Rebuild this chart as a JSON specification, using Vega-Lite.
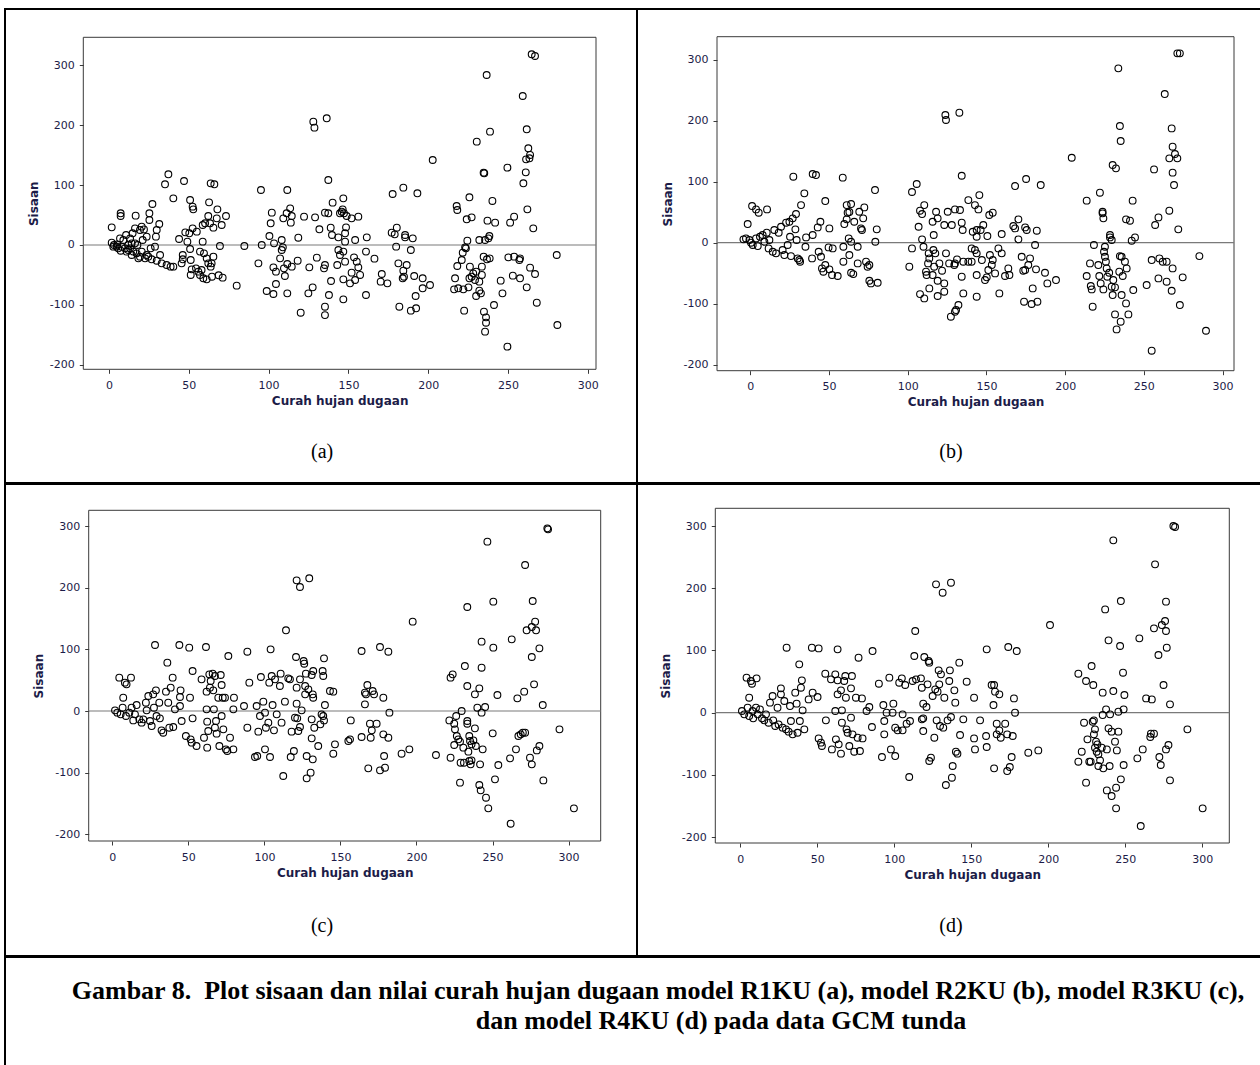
{
"$schema": "https://vega.github.io/schema/vega-lite/v6.json",
"background": "white",
"padding": {"left": 4, "top": 8, "right": 0, "bottom": 0},
"spacing": -2,
"config": {"view": {"stroke": null},
  "axis": {"domain": false, "grid": false, "tickSize": 4, "tickColor": "#3a3a3a", "labelFont": "DejaVu Sans", "labelFontSize": 11, "labelColor": "#1c1c48", "labelFlush": false, "labelOverlap": false, "titleFont": "DejaVu Sans", "titleFontSize": 12, "titleFontWeight": "bold", "titleColor": "#1c1c48"},
  "axisX": {"labelPadding": 6, "titlePadding": 5},
  "axisY": {"labelPadding": 5, "titlePadding": 9},
  "point": {"shape": "circle", "filled": false, "stroke": "#000", "strokeWidth": 1.1, "size": 46, "opacity": 1}},
"datasets": {
"a": [{"x":1.7,"y":3.9},{"x":3.1,"y":0},{"x":4.8,"y":-2.8},{"x":1.7,"y":29.5},{"x":7.3,"y":52.9},{"x":7.3,"y":48.4},{"x":16.7,"y":49},{"x":6.9,"y":11},{"x":7.9,"y":-2.8},{"x":10.7,"y":16.7},{"x":13.2,"y":11},{"x":14.2,"y":2.8},{"x":12.1,"y":-8.3},{"x":15.2,"y":-11},{"x":17.3,"y":-13.9},{"x":16.3,"y":27.8},{"x":19.4,"y":25},{"x":20.5,"y":30.6},{"x":21.9,"y":26},{"x":23.6,"y":13.9},{"x":25.3,"y":52.9},{"x":25.3,"y":41.7},{"x":27.2,"y":68.4},{"x":31.5,"y":35},{"x":29.9,"y":25},{"x":29.4,"y":13.9},{"x":28.8,"y":-2.8},{"x":26.1,"y":-5.6},{"x":19.4,"y":-19.5},{"x":22.6,"y":-22.3},{"x":26.7,"y":-23.9},{"x":29.9,"y":-26.2},{"x":33,"y":-30.6},{"x":36.1,"y":-33.4},{"x":38.6,"y":-36.2},{"x":40.3,"y":-36.2},{"x":32,"y":-16.7},{"x":35.1,"y":101.3},{"x":37.2,"y":118},{"x":40.3,"y":77.9},{"x":43.9,"y":10},{"x":46.2,"y":-16.7},{"x":46.2,"y":-23.9},{"x":45.5,"y":-30.6},{"x":47,"y":106.8},{"x":47.8,"y":21.1},{"x":49.1,"y":5.6},{"x":50.8,"y":75.1},{"x":52.4,"y":64},{"x":52.8,"y":59.5},{"x":52.4,"y":27.8},{"x":55,"y":22.3},{"x":50.3,"y":19.5},{"x":50.8,"y":-6.7},{"x":51.2,"y":-25},{"x":51.8,"y":-40.6},{"x":51.2,"y":-50},{"x":54.5,"y":-39},{"x":56,"y":-44.5},{"x":57,"y":-50},{"x":58,"y":-41.7},{"x":59.1,"y":-55.6},{"x":61.2,"y":-57.3},{"x":58.7,"y":5.6},{"x":57,"y":-11},{"x":59.5,"y":-13.9},{"x":61.2,"y":-22.3},{"x":62.2,"y":-30.6},{"x":60.2,"y":36.2},{"x":58.7,"y":33.4},{"x":62.2,"y":48.4},{"x":62.7,"y":71.2},{"x":63.7,"y":102.9},{"x":66,"y":101.3},{"x":63.3,"y":36.2},{"x":65.4,"y":28.9},{"x":67.9,"y":59.5},{"x":67.5,"y":44.5},{"x":69.5,"y":-1.7},{"x":65.4,"y":-19.5},{"x":64.3,"y":-30.6},{"x":63.7,"y":-36.2},{"x":64.5,"y":-52.9},{"x":68.7,"y":-50.6},{"x":71.2,"y":-54.5},{"x":70.6,"y":33.4},{"x":73.3,"y":48.4},{"x":80,"y":-67.9},{"x":84.8,"y":-1.7},{"x":95.2,"y":91.8},{"x":95.7,"y":0},{"x":93.6,"y":-30.6},{"x":98.8,"y":-76.8},{"x":100.5,"y":15},{"x":102,"y":54},{"x":101.3,"y":36.2},{"x":103.4,"y":2.8},{"x":103,"y":-37.3},{"x":104.6,"y":-44.5},{"x":103,"y":-81.8},{"x":104.6,"y":-65.1},{"x":107.2,"y":-22.3},{"x":108.2,"y":-8.3},{"x":108.9,"y":-3.9},{"x":108.2,"y":8.3},{"x":109.6,"y":-39},{"x":110.2,"y":-51.8},{"x":109.2,"y":44.5},{"x":111.3,"y":52.9},{"x":111.7,"y":91.8},{"x":113.5,"y":61.2},{"x":113.9,"y":37.3},{"x":114.5,"y":48.4},{"x":111.7,"y":-31.7},{"x":114.5,"y":-36.2},{"x":111.7,"y":-80.7},{"x":118.6,"y":12.2},{"x":118.2,"y":-26.2},{"x":120.1,"y":-113},{"x":122.2,"y":47.3},{"x":124.9,"y":-80.7},{"x":125.5,"y":-37.3},{"x":127.6,"y":-70.7},{"x":128,"y":205.9},{"x":128.7,"y":195.9},{"x":129.1,"y":46.2},{"x":131.8,"y":26.2},{"x":130.2,"y":-21.1},{"x":134.7,"y":-39},{"x":135.3,"y":-33.4},{"x":135.3,"y":-103},{"x":135.3,"y":-117},{"x":136.4,"y":211.5},{"x":137.4,"y":108.5},{"x":135.3,"y":54},{"x":137.4,"y":52.9},{"x":138.9,"y":28.9},{"x":139.7,"y":16.7},{"x":139.1,"y":-60.1},{"x":137.8,"y":-83.5},{"x":140.1,"y":70.7},{"x":143.7,"y":12.8},{"x":143.7,"y":-8.3},{"x":143,"y":-33.4},{"x":144.7,"y":52.9},{"x":146.8,"y":77.9},{"x":146.4,"y":59.5},{"x":147.2,"y":52.9},{"x":145.8,"y":55.6},{"x":148.9,"y":48.4},{"x":152,"y":44.5},{"x":156.2,"y":47.3},{"x":148.5,"y":29.5},{"x":147.9,"y":19.5},{"x":154.2,"y":8.3},{"x":147.9,"y":5.6},{"x":146.8,"y":-11},{"x":144.7,"y":-16.7},{"x":147.9,"y":-27.8},{"x":153.5,"y":-20.6},{"x":155.2,"y":-27.8},{"x":156.2,"y":-37.3},{"x":157.3,"y":-50},{"x":152,"y":-46.2},{"x":154.2,"y":-58.4},{"x":151,"y":-64},{"x":146.8,"y":-57.3},{"x":146.8,"y":-90.7},{"x":161,"y":-11},{"x":161,"y":-83.5},{"x":161.5,"y":12.8},{"x":166.3,"y":-22.8},{"x":170.9,"y":-48.4},{"x":170.2,"y":-61.2},{"x":174.4,"y":-64},{"x":177.7,"y":85.1},{"x":184.4,"y":95.7},{"x":193.2,"y":86.3},{"x":177.1,"y":20.6},{"x":180.3,"y":28.9},{"x":179.9,"y":-2.8},{"x":179,"y":17.8},{"x":185.5,"y":16.7},{"x":190.3,"y":11.1},{"x":185.5,"y":12.8},{"x":189.1,"y":-8.3},{"x":181.3,"y":-30.6},{"x":186.5,"y":-33.4},{"x":184.4,"y":-42.9},{"x":184.8,"y":-52.9},{"x":184,"y":-55.6},{"x":181.9,"y":-103},{"x":189.1,"y":-109.6},{"x":192.4,"y":-105.7},{"x":191.2,"y":-51.8},{"x":192.1,"y":-85.1},{"x":196.5,"y":-55.6},{"x":196.5,"y":-72.3},{"x":201.1,"y":-66.8},{"x":202.8,"y":141.9},{"x":217.8,"y":65.1},{"x":218.2,"y":58.4},{"x":225.8,"y":79.6},{"x":224.1,"y":42.9},{"x":227.2,"y":46.2},{"x":224.5,"y":7.2},{"x":223.6,"y":-5.6},{"x":221.6,"y":-12.8},{"x":221,"y":-25},{"x":218.2,"y":-35.1},{"x":216.8,"y":-55.6},{"x":216.2,"y":-74},{"x":218.8,"y":-72.3},{"x":222,"y":-74},{"x":225.2,"y":-70.7},{"x":222.5,"y":-109.6},{"x":223.1,"y":-3.9},{"x":225.8,"y":-55.6},{"x":227.2,"y":-52.9},{"x":228.2,"y":-47.3},{"x":226.1,"y":-36.2},{"x":230,"y":-44.5},{"x":229.3,"y":-58.4},{"x":232,"y":-61.2},{"x":232,"y":-76.2},{"x":230,"y":-85.1},{"x":233,"y":-80.7},{"x":233.6,"y":-36.2},{"x":233.6,"y":-50},{"x":234.7,"y":-19.5},{"x":236.8,"y":-23.9},{"x":238.5,"y":-22.3},{"x":230.4,"y":172.5},{"x":236.6,"y":283.8},{"x":238.7,"y":189.2},{"x":234.7,"y":120.8},{"x":235.1,"y":119.7},{"x":237.1,"y":40.6},{"x":240.2,"y":73.5},{"x":241.9,"y":37.3},{"x":232,"y":8.3},{"x":235.6,"y":8.3},{"x":238.3,"y":15},{"x":237.7,"y":11.1},{"x":234.9,"y":-111.3},{"x":236.2,"y":-120.8},{"x":236.2,"y":-129.7},{"x":235.6,"y":-144.7},{"x":241.2,"y":-100.2},{"x":245.4,"y":-59.5},{"x":246.5,"y":-80.7},{"x":250.2,"y":-20.6},{"x":253.8,"y":-19.5},{"x":257.5,"y":-22.3},{"x":257.1,"y":-25},{"x":253,"y":-51.2},{"x":257.5,"y":-55.6},{"x":261.7,"y":-70.7},{"x":263.8,"y":-37.8},{"x":266.9,"y":-48.4},{"x":268,"y":-96.3},{"x":249.6,"y":-169.7},{"x":249.6,"y":129.1},{"x":251.3,"y":37.3},{"x":253.8,"y":47.3},{"x":259.2,"y":248.7},{"x":261.7,"y":193.1},{"x":262.1,"y":59.5},{"x":262.7,"y":161.4},{"x":261.3,"y":143},{"x":263.8,"y":150.3},{"x":263.4,"y":144.7},{"x":261.1,"y":121.3},{"x":259.6,"y":103},{"x":265.8,"y":27.8},{"x":264.8,"y":318.3},{"x":266.9,"y":315.5},{"x":280.5,"y":-16.7},{"x":280.9,"y":-133.6},{"x":2.7,"y":-2.8},{"x":5.8,"y":-5.6},{"x":10,"y":-5.6},{"x":11.1,"y":-11.1},{"x":14.2,"y":-16.7},{"x":17.8,"y":0},{"x":20.5,"y":-11.1},{"x":23.6,"y":-16.7},{"x":9,"y":8.3},{"x":14.8,"y":19.5},{"x":21.1,"y":8.3},{"x":18.4,"y":-22.3},{"x":24.6,"y":-19.5},{"x":13.2,"y":-5.6},{"x":16.3,"y":2.8},{"x":12.1,"y":0},{"x":7.3,"y":-9.5},{"x":5.2,"y":1.1}],
"b": [{"x":-1.7,"y":30.6},{"x":1.1,"y":60.1},{"x":3.6,"y":54.6},{"x":5.3,"y":49.2},{"x":10.6,"y":54.6},{"x":-4.4,"y":5.5},{"x":-2.8,"y":7.1},{"x":-0.6,"y":4.4},{"x":0.4,"y":0},{"x":1.5,"y":-3.8},{"x":3.6,"y":7.1},{"x":4.7,"y":-5.5},{"x":6.1,"y":9.8},{"x":7.8,"y":12.6},{"x":8.9,"y":1.6},{"x":10.4,"y":16.4},{"x":11.6,"y":-9.3},{"x":12.1,"y":4.4},{"x":14.2,"y":-14.8},{"x":15.2,"y":20.8},{"x":16.3,"y":-17.5},{"x":18,"y":16.4},{"x":19.5,"y":26.2},{"x":20.5,"y":-12},{"x":21.6,"y":-20.2},{"x":22.7,"y":32.8},{"x":23.7,"y":-3.8},{"x":24.8,"y":34.4},{"x":25.2,"y":9.8},{"x":25.8,"y":-21.9},{"x":26.9,"y":39.9},{"x":27.3,"y":108.2},{"x":28.6,"y":21.9},{"x":29,"y":47},{"x":29.4,"y":4.4},{"x":30.1,"y":-25.7},{"x":31.1,"y":-28.4},{"x":31.6,"y":-31.1},{"x":32.2,"y":61.7},{"x":34.3,"y":80.9},{"x":35,"y":-6.6},{"x":35.4,"y":8.7},{"x":39.2,"y":-25.7},{"x":39.6,"y":112.6},{"x":41.7,"y":110.9},{"x":39.6,"y":12.6},{"x":42.8,"y":25.1},{"x":44.5,"y":34.4},{"x":43.4,"y":-14.8},{"x":44.9,"y":-23},{"x":45.5,"y":-42.1},{"x":46.4,"y":-47.5},{"x":47.6,"y":-36.6},{"x":47.6,"y":68.3},{"x":50.2,"y":23.5},{"x":49.7,"y":-7.7},{"x":52.3,"y":-9.3},{"x":50.2,"y":-43.7},{"x":51.9,"y":-53},{"x":55.5,"y":-54.6},{"x":58.7,"y":106.6},{"x":59.1,"y":-6.6},{"x":59.1,"y":-31.1},{"x":59.7,"y":30.6},{"x":61.2,"y":38.3},{"x":61.8,"y":49.2},{"x":61.2,"y":61.7},{"x":62.9,"y":50.3},{"x":64,"y":63.4},{"x":62.5,"y":7.1},{"x":64,"y":1.6},{"x":62.9,"y":-20.2},{"x":64,"y":-49.2},{"x":65.4,"y":-51.4},{"x":66,"y":34.4},{"x":68.2,"y":-6.6},{"x":68.2,"y":-33.9},{"x":69.2,"y":50.8},{"x":70.3,"y":23.5},{"x":70.9,"y":20.8},{"x":72.4,"y":57.9},{"x":71.7,"y":39.9},{"x":73.5,"y":-31.1},{"x":74.5,"y":-39.3},{"x":75.6,"y":-36.6},{"x":76.6,"y":-66.7},{"x":75.6,"y":-62.3},{"x":79.2,"y":86.3},{"x":80.3,"y":21.9},{"x":79.4,"y":1.6},{"x":80.9,"y":-65.6},{"x":101,"y":-39.3},{"x":102.7,"y":83.1},{"x":105.7,"y":96.2},{"x":102.7,"y":-9.3},{"x":106.9,"y":26.2},{"x":107.8,"y":52.5},{"x":109.1,"y":5.5},{"x":110,"y":-6.6},{"x":110.5,"y":61.7},{"x":109.1,"y":47},{"x":107.8,"y":-84.2},{"x":110.5,"y":-91.3},{"x":111.6,"y":-47.5},{"x":112,"y":-53},{"x":113.3,"y":-17.5},{"x":113.7,"y":-25.7},{"x":112.9,"y":-33.9},{"x":113.7,"y":-74.9},{"x":115.8,"y":34.4},{"x":116.5,"y":12.6},{"x":116.3,"y":-12},{"x":117.5,"y":-17.5},{"x":116.8,"y":-39.3},{"x":115.8,"y":-53},{"x":118,"y":50.8},{"x":119,"y":39.9},{"x":120.1,"y":-33.9},{"x":119,"y":-62.3},{"x":119,"y":-87.4},{"x":121.8,"y":-45.9},{"x":123.2,"y":29},{"x":123.9,"y":209.3},{"x":124.3,"y":201.1},{"x":125.4,"y":50.8},{"x":124.3,"y":-17.5},{"x":123.2,"y":-66.7},{"x":123.2,"y":-80.3},{"x":126.3,"y":-33.9},{"x":128,"y":29},{"x":127.4,"y":-121.3},{"x":129.6,"y":-36.6},{"x":130.7,"y":-110.4},{"x":132.8,"y":213.1},{"x":134.3,"y":109.8},{"x":130,"y":54.6},{"x":133.2,"y":53.6},{"x":134.3,"y":32.8},{"x":134.9,"y":20.8},{"x":130,"y":-33.9},{"x":131.3,"y":-27.3},{"x":135.3,"y":-31.1},{"x":138.5,"y":-31.1},{"x":140.6,"y":-31.1},{"x":134.3,"y":-55.7},{"x":135.3,"y":-83.1},{"x":132.2,"y":-102.2},{"x":130,"y":-113.1},{"x":138.5,"y":69.9},{"x":140.6,"y":-9.3},{"x":142.7,"y":-12},{"x":143.8,"y":-17.5},{"x":143.8,"y":-53},{"x":143.8,"y":-88.5},{"x":142.7,"y":61.7},{"x":144.9,"y":54.6},{"x":145.5,"y":78.1},{"x":141.3,"y":18},{"x":143.8,"y":20.8},{"x":143.8,"y":9.8},{"x":146.3,"y":20.8},{"x":148,"y":29},{"x":150.6,"y":10.9},{"x":147.1,"y":-28.4},{"x":149.1,"y":-61.2},{"x":150.2,"y":-56.8},{"x":151.8,"y":45.4},{"x":154,"y":49.2},{"x":152.2,"y":-20.2},{"x":154,"y":-28.4},{"x":153.4,"y":-36.6},{"x":151.2,"y":-44.8},{"x":155.5,"y":-50.3},{"x":157.6,"y":-9.3},{"x":159.7,"y":-17.5},{"x":159.7,"y":14.2},{"x":158.2,"y":-83.1},{"x":161.8,"y":-54.6},{"x":163.9,"y":-42.1},{"x":164.6,"y":-53},{"x":168.2,"y":92.9},{"x":167.1,"y":27.3},{"x":168.2,"y":23.5},{"x":170.3,"y":38.3},{"x":170.3,"y":5.5},{"x":172.4,"y":-23},{"x":173.4,"y":-45.9},{"x":174.6,"y":-44.8},{"x":173.9,"y":-96.7},{"x":175.2,"y":104.4},{"x":174.6,"y":25.1},{"x":175.6,"y":20.8},{"x":177.7,"y":-25.7},{"x":176.6,"y":-36.6},{"x":178.7,"y":-100.5},{"x":179.4,"y":-74.9},{"x":180.9,"y":-3.8},{"x":182,"y":19.7},{"x":181.5,"y":-43.7},{"x":182.4,"y":-96.7},{"x":184.5,"y":94.5},{"x":187.2,"y":-49.2},{"x":188.7,"y":-66.7},{"x":194.2,"y":-61.2},{"x":204.2,"y":139.3},{"x":213.7,"y":68.9},{"x":218.3,"y":-3.8},{"x":215.8,"y":-33.9},{"x":213.7,"y":-54.6},{"x":216.3,"y":-71},{"x":216.9,"y":-76.5},{"x":217.5,"y":-104.9},{"x":221.1,"y":-36.6},{"x":221.7,"y":-54.6},{"x":222.6,"y":-66.7},{"x":224.3,"y":-76.5},{"x":222.1,"y":82},{"x":223.8,"y":50.8},{"x":223.8,"y":48.1},{"x":224.3,"y":39.9},{"x":225.3,"y":-6.6},{"x":224.7,"y":-14.8},{"x":225.3,"y":-23},{"x":225.9,"y":-31.1},{"x":226.4,"y":-42.1},{"x":228.5,"y":12.6},{"x":228.5,"y":8.7},{"x":229.6,"y":4.4},{"x":226.8,"y":-55.7},{"x":228,"y":-49.2},{"x":229.6,"y":-72.1},{"x":230.2,"y":-85.8},{"x":231.7,"y":-73.2},{"x":230.6,"y":-61.2},{"x":231.7,"y":-117.5},{"x":232.7,"y":-142.1},{"x":235.3,"y":-129.5},{"x":233.8,"y":285.8},{"x":230.2,"y":127.3},{"x":232.3,"y":121.9},{"x":234.8,"y":191.3},{"x":235.3,"y":166.7},{"x":234.8,"y":-21.9},{"x":235.9,"y":-23},{"x":238,"y":-31.1},{"x":234.4,"y":-47.5},{"x":236.6,"y":-54.6},{"x":239.1,"y":-42.1},{"x":235.9,"y":-85.8},{"x":238.7,"y":-99.5},{"x":240.2,"y":-117.5},{"x":238.7,"y":38.3},{"x":241.2,"y":36.1},{"x":242.9,"y":68.9},{"x":242.3,"y":3.3},{"x":244.4,"y":8.7},{"x":243.3,"y":-77.6},{"x":251.8,"y":-69.4},{"x":255,"y":-28.4},{"x":255,"y":-177},{"x":256.5,"y":120.2},{"x":257.2,"y":29},{"x":259.3,"y":41.5},{"x":259.3,"y":-58.5},{"x":259.9,"y":-25.7},{"x":262,"y":-31.1},{"x":264.5,"y":-31.1},{"x":263.3,"y":243.7},{"x":264.5,"y":-63.9},{"x":266.2,"y":52.5},{"x":267.7,"y":187.4},{"x":268.3,"y":157.4},{"x":269.8,"y":145.4},{"x":266.2,"y":138.3},{"x":271.3,"y":138.3},{"x":268.3,"y":114.8},{"x":269.2,"y":94.5},{"x":268.3,"y":-42.1},{"x":267.7,"y":-78.7},{"x":271.9,"y":21.9},{"x":272.9,"y":-102.2},{"x":274.7,"y":-56.8},{"x":271.3,"y":310.4},{"x":272.9,"y":310.4},{"x":285.3,"y":-21.9},{"x":289.5,"y":-144.3}],
"c": [{"x":1.8,"y":1.1},{"x":3.3,"y":-2.7},{"x":4.6,"y":54.1},{"x":8.3,"y":46},{"x":9.4,"y":43.3},{"x":12.3,"y":54.1},{"x":7.2,"y":21.6},{"x":5.5,"y":-5.4},{"x":6.8,"y":5.4},{"x":9,"y":-8.1},{"x":11.2,"y":-2.7},{"x":12.7,"y":5.4},{"x":13.8,"y":-15.2},{"x":14.9,"y":-5.4},{"x":16,"y":9.7},{"x":17.8,"y":-13.5},{"x":19.3,"y":-18.9},{"x":20.4,"y":-13.5},{"x":22.1,"y":13.5},{"x":22.6,"y":1.1},{"x":23.7,"y":24.4},{"x":24.8,"y":-16.2},{"x":25.9,"y":-24.4},{"x":26.9,"y":27.1},{"x":27.4,"y":5.4},{"x":28.7,"y":33.5},{"x":29.1,"y":-8.1},{"x":28.1,"y":107.1},{"x":30.9,"y":13.5},{"x":31.3,"y":-11.9},{"x":32.4,"y":-31.4},{"x":33.5,"y":-35.2},{"x":35.3,"y":31.4},{"x":36.2,"y":78.5},{"x":36.8,"y":13.5},{"x":37.5,"y":-27.1},{"x":38.4,"y":37.9},{"x":39.7,"y":54.1},{"x":40.1,"y":-26},{"x":41.2,"y":2.7},{"x":44.1,"y":107.1},{"x":44.5,"y":22.7},{"x":44.9,"y":33.5},{"x":45.6,"y":-16.2},{"x":44.5,"y":8.1},{"x":48.4,"y":-40.6},{"x":50.6,"y":102.8},{"x":51.1,"y":21.6},{"x":51.5,"y":-46},{"x":52.2,"y":-51.4},{"x":52.8,"y":64.9},{"x":52.8,"y":-11.9},{"x":55.4,"y":-56.8},{"x":58.7,"y":51.4},{"x":60.3,"y":-43.3},{"x":61.6,"y":103.9},{"x":62,"y":31.4},{"x":62,"y":2.7},{"x":62.4,"y":-59.5},{"x":62.4,"y":-17.3},{"x":63.1,"y":-32.5},{"x":63.8,"y":59.5},{"x":64.2,"y":37.9},{"x":64.7,"y":48.7},{"x":66,"y":60.6},{"x":66.4,"y":33.5},{"x":67.5,"y":56.8},{"x":67.5,"y":-27.1},{"x":66.8,"y":2.7},{"x":68.2,"y":-16.2},{"x":68.6,"y":-36.8},{"x":69.7,"y":21.6},{"x":70.4,"y":-56.8},{"x":71.3,"y":58.4},{"x":71.9,"y":42.2},{"x":71.9,"y":-8.1},{"x":72.6,"y":21.6},{"x":73,"y":-29.8},{"x":74.1,"y":21.6},{"x":74.7,"y":-62.2},{"x":75.6,"y":-64.9},{"x":76.3,"y":89.3},{"x":77.4,"y":-43.3},{"x":79.6,"y":-62.2},{"x":80,"y":21.6},{"x":79.6,"y":2.7},{"x":86.6,"y":8.1},{"x":88.8,"y":96.3},{"x":88.8,"y":-27.1},{"x":90.1,"y":46},{"x":93.8,"y":-74.7},{"x":94.9,"y":8.1},{"x":95.3,"y":-73},{"x":96,"y":-33.5},{"x":97.1,"y":-8.1},{"x":97.7,"y":55.2},{"x":99.3,"y":15.2},{"x":100.4,"y":-2.7},{"x":100.4,"y":-62.2},{"x":101,"y":-27.1},{"x":102.6,"y":-18.9},{"x":103.7,"y":-74.7},{"x":104.1,"y":100.1},{"x":103.2,"y":46},{"x":104.8,"y":56.8},{"x":105.4,"y":9.7},{"x":106.3,"y":-31.4},{"x":107,"y":51.4},{"x":108.1,"y":-5.4},{"x":110.2,"y":40.6},{"x":110.7,"y":60.6},{"x":111.3,"y":-18.9},{"x":112.4,"y":-105.5},{"x":113.5,"y":15.2},{"x":114.2,"y":131},{"x":115.7,"y":53},{"x":116.8,"y":51.4},{"x":117.3,"y":-74.7},{"x":117.9,"y":-33.5},{"x":119.4,"y":-64.9},{"x":120.8,"y":87.7},{"x":121.2,"y":212.1},{"x":123.4,"y":201.3},{"x":121.2,"y":37.9},{"x":121.2,"y":11.9},{"x":120.1,"y":-10.8},{"x":121.6,"y":-11.9},{"x":123.4,"y":-26},{"x":122.3,"y":-32.5},{"x":123.4,"y":51.4},{"x":124.5,"y":1.1},{"x":125.8,"y":81.2},{"x":126.2,"y":76.8},{"x":126.8,"y":27.1},{"x":126.8,"y":40.6},{"x":127.3,"y":60.6},{"x":127.8,"y":-109.3},{"x":127.8,"y":-73},{"x":128.9,"y":35.2},{"x":129.5,"y":215.4},{"x":130.4,"y":-100.1},{"x":131.1,"y":58.4},{"x":131.8,"y":27.1},{"x":131.1,"y":-13.5},{"x":132.1,"y":64.9},{"x":132.1,"y":21.6},{"x":131.1,"y":-44.4},{"x":131.8,"y":-78.5},{"x":132.8,"y":-27.1},{"x":135.4,"y":-56.8},{"x":136.8,"y":-21.6},{"x":138.3,"y":64.9},{"x":138.7,"y":56.8},{"x":139.2,"y":85.5},{"x":139.8,"y":9.7},{"x":137.6,"y":-5.4},{"x":138.7,"y":-8.1},{"x":139.2,"y":-15.2},{"x":143.1,"y":32.5},{"x":145.3,"y":31.4},{"x":146.4,"y":-54.1},{"x":145.3,"y":-69.3},{"x":156.8,"y":-15.2},{"x":155.2,"y":-48.7},{"x":156.3,"y":-46},{"x":163.9,"y":97.4},{"x":166.1,"y":10.8},{"x":166.1,"y":29.8},{"x":167.7,"y":42.2},{"x":166.8,"y":27.1},{"x":163.9,"y":-42.2},{"x":168.3,"y":-93.1},{"x":169.4,"y":-20.6},{"x":170.6,"y":-31.4},{"x":169.9,"y":-43.3},{"x":171.2,"y":32.5},{"x":172.1,"y":27.1},{"x":173.8,"y":-20.6},{"x":176,"y":103.9},{"x":176,"y":-96.3},{"x":178.2,"y":21.6},{"x":178.2,"y":-37.9},{"x":178.7,"y":-73},{"x":179.3,"y":-92},{"x":181.5,"y":96.3},{"x":181.5,"y":-43.3},{"x":182.2,"y":-2.7},{"x":190.2,"y":-69.3},{"x":195.3,"y":-62.2},{"x":197.5,"y":145},{"x":212.8,"y":-71.4},{"x":222.4,"y":54.1},{"x":223.8,"y":59.5},{"x":221.6,"y":-15.2},{"x":222.4,"y":-75.8},{"x":224.8,"y":-20.6},{"x":226.1,"y":-8.1},{"x":225.3,"y":-29.8},{"x":226.5,"y":-40.6},{"x":224.8,"y":-55.2},{"x":228.6,"y":-116.3},{"x":227.5,"y":-46},{"x":228.6,"y":-49.8},{"x":229.7,"y":0},{"x":229,"y":-83.9},{"x":230.8,"y":-59.5},{"x":231.2,"y":-83.9},{"x":231.8,"y":73},{"x":233.4,"y":168.8},{"x":233.4,"y":40.6},{"x":233.4,"y":-16.2},{"x":233.4,"y":-20.6},{"x":234.7,"y":-40.6},{"x":235.2,"y":-48.7},{"x":234.1,"y":-66},{"x":234.7,"y":-81.2},{"x":235.6,"y":-86.6},{"x":236.2,"y":-54.1},{"x":237.4,"y":-47.6},{"x":236.2,"y":-80.1},{"x":238.4,"y":27.1},{"x":238.4,"y":-28.1},{"x":239,"y":-56.8},{"x":240,"y":5.4},{"x":241.3,"y":36.8},{"x":241.3,"y":-120.1},{"x":242.2,"y":-128.8},{"x":241.8,"y":-86.6},{"x":242.8,"y":112.6},{"x":242.8,"y":70.3},{"x":242.8,"y":-2.7},{"x":243.5,"y":-62.2},{"x":245.1,"y":6.5},{"x":245.7,"y":-140.7},{"x":247.2,"y":-158},{"x":246.6,"y":274.9},{"x":250.5,"y":177.5},{"x":250.5,"y":102.8},{"x":250.1,"y":-36.3},{"x":251.6,"y":-110.9},{"x":253.2,"y":26},{"x":253.8,"y":-87.7},{"x":261.5,"y":-76.8},{"x":261.9,"y":-182.9},{"x":262.6,"y":116.3},{"x":265.4,"y":-62.2},{"x":266.3,"y":20.6},{"x":267,"y":-40.6},{"x":268.5,"y":-37.9},{"x":269.9,"y":-35.2},{"x":271.4,"y":-35.2},{"x":270.8,"y":31.4},{"x":271.4,"y":237},{"x":272.4,"y":131},{"x":274.6,"y":-75.8},{"x":275.8,"y":-86.6},{"x":275.8,"y":87.7},{"x":276.4,"y":178.6},{"x":275.8,"y":136.4},{"x":277.3,"y":43.3},{"x":278,"y":145},{"x":278.6,"y":131},{"x":279.1,"y":-63.9},{"x":280.8,"y":-56.8},{"x":280.8,"y":101.7},{"x":283,"y":9.7},{"x":283.4,"y":-112.6},{"x":286,"y":296.5},{"x":286.5,"y":294.9},{"x":294,"y":-29.8},{"x":303.5,"y":-158}],
"d": [{"x":1.1,"y":2.7},{"x":2.6,"y":-2.7},{"x":4.1,"y":56.3},{"x":6.9,"y":50.9},{"x":7.6,"y":46.6},{"x":10.6,"y":55.2},{"x":5.8,"y":24.1},{"x":4.8,"y":8},{"x":5.8,"y":-5.4},{"x":8,"y":2.7},{"x":8.4,"y":-9.1},{"x":10.2,"y":8},{"x":11.3,"y":-2.7},{"x":12.8,"y":5.4},{"x":14.1,"y":-9.1},{"x":15.6,"y":-12.3},{"x":16.7,"y":-2.7},{"x":18.4,"y":-16.1},{"x":19.3,"y":16.1},{"x":21,"y":26.8},{"x":21.4,"y":-12.3},{"x":22.7,"y":-21.4},{"x":24.2,"y":8},{"x":24.9,"y":-18.8},{"x":26.4,"y":39.1},{"x":26.4,"y":29.5},{"x":27.5,"y":-24.1},{"x":28.6,"y":18.8},{"x":29.7,"y":-26.8},{"x":30.1,"y":104.5},{"x":31.4,"y":-30.5},{"x":32.3,"y":10.7},{"x":32.9,"y":-13.4},{"x":34,"y":-34.8},{"x":35.7,"y":32.2},{"x":36.6,"y":14.5},{"x":37.2,"y":-32.2},{"x":38.3,"y":77.7},{"x":38.7,"y":-13.4},{"x":39.4,"y":40.2},{"x":40,"y":52},{"x":40.5,"y":3.8},{"x":41.6,"y":-26.8},{"x":44.4,"y":21.4},{"x":46.5,"y":104.5},{"x":47,"y":32.2},{"x":50.9,"y":103.4},{"x":50.2,"y":25.2},{"x":50.9,"y":-41.3},{"x":52.4,"y":-48.2},{"x":53,"y":-53.6},{"x":55.2,"y":62.7},{"x":55.6,"y":-12.3},{"x":58.9,"y":53.6},{"x":59.5,"y":-59},{"x":61.7,"y":61.6},{"x":61.7,"y":2.7},{"x":63.2,"y":101.8},{"x":63.2,"y":52},{"x":63.2,"y":29.5},{"x":62.1,"y":-42.9},{"x":63.9,"y":-50.9},{"x":65.4,"y":35.9},{"x":66,"y":3.8},{"x":65.4,"y":-65.9},{"x":66,"y":-16.1},{"x":67.5,"y":50.9},{"x":68.2,"y":59},{"x":68.6,"y":24.1},{"x":69,"y":-26.8},{"x":69.7,"y":-32.2},{"x":70.8,"y":-53.6},{"x":71.9,"y":-8},{"x":71.9,"y":39.1},{"x":72.5,"y":59},{"x":72.9,"y":-34.8},{"x":74,"y":-62.7},{"x":75.1,"y":24.1},{"x":76.2,"y":-40.2},{"x":76.8,"y":88.4},{"x":77.7,"y":-61.6},{"x":79,"y":23},{"x":79.4,"y":-41.3},{"x":82,"y":2.7},{"x":83.8,"y":9.1},{"x":85.5,"y":-23},{"x":85.9,"y":99.1},{"x":90,"y":46.6},{"x":92,"y":-71.3},{"x":92.9,"y":12.3},{"x":93.5,"y":-34.8},{"x":93.5,"y":-13.4},{"x":95,"y":0},{"x":96.8,"y":56.3},{"x":97.8,"y":-59},{"x":98.9,"y":0},{"x":99.4,"y":14.5},{"x":100.6,"y":-69.7},{"x":100.6,"y":-24.1},{"x":102.2,"y":-28.4},{"x":103.2,"y":48.2},{"x":104.9,"y":55.2},{"x":105.4,"y":-2.7},{"x":105.4,"y":-28.4},{"x":107.1,"y":44.5},{"x":108,"y":-17.7},{"x":109.7,"y":-103.4},{"x":110.2,"y":-13.4},{"x":111.9,"y":50.9},{"x":113,"y":91.1},{"x":113.6,"y":131.3},{"x":114.1,"y":53.6},{"x":117.3,"y":55.2},{"x":117.9,"y":40.2},{"x":118.8,"y":14.5},{"x":119.5,"y":89.5},{"x":118.8,"y":-9.1},{"x":117.9,"y":-10.7},{"x":118.8,"y":-29.5},{"x":120.9,"y":9.1},{"x":121.6,"y":45.6},{"x":122.3,"y":83.1},{"x":122.7,"y":80.4},{"x":122.7,"y":-77.7},{"x":123.8,"y":-72.3},{"x":124.9,"y":26.8},{"x":126,"y":-40.2},{"x":126.6,"y":37.5},{"x":127.1,"y":206.3},{"x":127.5,"y":-12.3},{"x":128.1,"y":33.8},{"x":128.8,"y":68.1},{"x":129.2,"y":45.6},{"x":129.7,"y":-21.4},{"x":130.3,"y":61.6},{"x":131.4,"y":192.9},{"x":131.8,"y":-24.1},{"x":132.5,"y":24.1},{"x":133.5,"y":-116.3},{"x":134.6,"y":-12.3},{"x":135.7,"y":50.9},{"x":136.1,"y":68.1},{"x":136.8,"y":209},{"x":137.4,"y":-104.5},{"x":136.8,"y":-7},{"x":137.9,"y":-85.7},{"x":139,"y":35.9},{"x":139.6,"y":16.1},{"x":140,"y":-62.7},{"x":141,"y":-65.9},{"x":142.2,"y":80.4},{"x":142.7,"y":-35.9},{"x":144.8,"y":-10.7},{"x":147,"y":49.8},{"x":151.8,"y":24.1},{"x":151.8,"y":-41.3},{"x":152.4,"y":-59},{"x":155.7,"y":-12.3},{"x":159.6,"y":-37.5},{"x":160,"y":101.8},{"x":160,"y":-55.2},{"x":163.2,"y":44.5},{"x":164.8,"y":44.5},{"x":165.4,"y":33.8},{"x":164.4,"y":12.3},{"x":166.5,"y":-17.7},{"x":166.5,"y":-34.8},{"x":168.2,"y":-28.4},{"x":169.1,"y":-40.2},{"x":168.2,"y":29.5},{"x":164.8,"y":-89.5},{"x":172,"y":-17.7},{"x":174,"y":105.6},{"x":173.3,"y":-34.8},{"x":175,"y":-87.4},{"x":173.3,"y":-93.8},{"x":176.2,"y":-71.3},{"x":176.9,"y":-37.5},{"x":177.7,"y":23},{"x":178.4,"y":0},{"x":179.5,"y":99.1},{"x":187,"y":-64.3},{"x":193.5,"y":-60.6},{"x":201.1,"y":140.9},{"x":219.5,"y":62.7},{"x":219.5,"y":-78.8},{"x":221.7,"y":-62.7},{"x":224.5,"y":50.9},{"x":224.5,"y":-112.5},{"x":223.2,"y":-16.1},{"x":225.4,"y":-42.9},{"x":226.6,"y":-78.8},{"x":227.5,"y":-78.8},{"x":228.1,"y":75},{"x":229.2,"y":44.5},{"x":228.8,"y":-14.5},{"x":229.6,"y":-12.3},{"x":230.3,"y":-26.8},{"x":229.6,"y":-34.8},{"x":230.3,"y":-56.3},{"x":231,"y":-46.6},{"x":231.4,"y":-62.7},{"x":231.9,"y":-50.9},{"x":232.5,"y":-67},{"x":232.5,"y":-85.7},{"x":233.6,"y":-76.6},{"x":234.7,"y":-56.3},{"x":235.3,"y":32.2},{"x":235.3,"y":-3.8},{"x":235.7,"y":-89.5},{"x":236.9,"y":166.1},{"x":237.5,"y":5.4},{"x":238,"y":-124.9},{"x":238,"y":-59},{"x":239.1,"y":116.3},{"x":239.1,"y":-25.2},{"x":239.8,"y":-85.7},{"x":240.1,"y":-2.7},{"x":241.1,"y":-30.5},{"x":241.1,"y":-134},{"x":242.2,"y":34.8},{"x":242.2,"y":277.1},{"x":243.3,"y":-46.6},{"x":244,"y":-120.6},{"x":244.5,"y":-60.6},{"x":245.5,"y":1.6},{"x":245.5,"y":-30.5},{"x":244,"y":-153.8},{"x":246.6,"y":107.2},{"x":247.1,"y":179.5},{"x":247.1,"y":-107.2},{"x":248.5,"y":64.3},{"x":248.9,"y":5.4},{"x":248.9,"y":-84.1},{"x":249.4,"y":28.4},{"x":257.8,"y":-73.4},{"x":259.1,"y":119.5},{"x":260,"y":-182.2},{"x":261.3,"y":-59},{"x":263.5,"y":23},{"x":266.2,"y":-39.1},{"x":266.6,"y":-33.8},{"x":267.2,"y":21.4},{"x":268.6,"y":135.6},{"x":268.6,"y":-33.8},{"x":269.3,"y":238.5},{"x":271.5,"y":92.7},{"x":272.1,"y":-71.3},{"x":273,"y":-84.1},{"x":273.7,"y":140.9},{"x":274.8,"y":44.5},{"x":275.8,"y":147.4},{"x":276.4,"y":131.3},{"x":276.4,"y":178.5},{"x":276.4,"y":-59},{"x":276.9,"y":104.5},{"x":278,"y":-52},{"x":279,"y":13.4},{"x":279,"y":-108.8},{"x":281.2,"y":300.1},{"x":282.3,"y":298.5},{"x":290.3,"y":-26.8},{"x":300.2,"y":-153.8}]
},
"vconcat": [
{"hconcat": [
{"width": 632, "height": 474, "view": {"stroke": "#000", "strokeWidth": 2},
 "layer": [
  {"data": {"values": [{}]}, "mark": {"type": "rect", "fill": "transparent", "stroke": "#3a3a3a", "strokeWidth": 1},
   "encoding": {"x": {"datum": -16.1, "type": "quantitative", "scale": {"domain": [-16.1, 305.1], "range": [78.3, 591], "nice": false, "zero": false}, "axis": {"title": "Curah hujan dugaan", "values": [0,50,100,150,200,250,300], "offset": -113.7}}, "x2": {"datum": 305.1}, "y": {"datum": -207.5, "type": "quantitative", "scale": {"domain": [-207.5, 346.7], "range": [360.3, 28.3], "nice": false, "zero": false}, "axis": {"title": "Sisaan", "values": [-200,-100,0,100,200,300], "offset": -78.3, "labelExpr": "'' + datum.value"}}, "y2": {"datum": 346.7}}},
  {"data": {"values": [{}]}, "mark": {"type": "rule", "stroke": "#7a7a7a", "strokeWidth": 1.2},
   "encoding": {"x": {"datum": -16.1, "type": "quantitative", "scale": {"domain": [-16.1, 305.1], "range": [78.3, 591], "nice": false, "zero": false}, "axis": {"title": "Curah hujan dugaan", "values": [0,50,100,150,200,250,300], "offset": -113.7}}, "x2": {"datum": 305.1}, "y": {"datum": 0, "type": "quantitative", "scale": {"domain": [-207.5, 346.7], "range": [360.3, 28.3], "nice": false, "zero": false}, "axis": {"title": "Sisaan", "values": [-200,-100,0,100,200,300], "offset": -78.3, "labelExpr": "'' + datum.value"}}}},
  {"data": {"name": "a"}, "mark": {"type": "point"},
   "encoding": {"x": {"field": "x", "type": "quantitative", "scale": {"domain": [-16.1, 305.1], "range": [78.3, 591], "nice": false, "zero": false}, "axis": {"title": "Curah hujan dugaan", "values": [0,50,100,150,200,250,300], "offset": -113.7}}, "y": {"field": "y", "type": "quantitative", "scale": {"domain": [-207.5, 346.7], "range": [360.3, 28.3], "nice": false, "zero": false}, "axis": {"title": "Sisaan", "values": [-200,-100,0,100,200,300], "offset": -78.3, "labelExpr": "'' + datum.value"}}}},
  {"data": {"values": [{"label": "(a)"}]}, "mark": {"type": "text", "font": "Liberation Serif", "fontSize": 20, "align": "center", "baseline": "middle", "color": "#000"},
   "encoding": {"x": {"datum": 133.5, "type": "quantitative", "scale": {"domain": [-16.1, 305.1], "range": [78.3, 591], "nice": false, "zero": false}, "axis": {"title": "Curah hujan dugaan", "values": [0,50,100,150,200,250,300], "offset": -113.7}}, "y": {"datum": -345.6, "type": "quantitative", "scale": {"domain": [-207.5, 346.7], "range": [360.3, 28.3], "nice": false, "zero": false}, "axis": {"title": "Sisaan", "values": [-200,-100,0,100,200,300], "offset": -78.3, "labelExpr": "'' + datum.value"}}, "text": {"field": "label"}}}
 ]},
{"width": 625, "height": 474, "view": {"stroke": "#000", "strokeWidth": 2},
 "layer": [
  {"data": {"values": [{}]}, "mark": {"type": "rect", "fill": "transparent", "stroke": "#3a3a3a", "strokeWidth": 1},
   "encoding": {"x": {"datum": -21.2, "type": "quantitative", "scale": {"domain": [-21.2, 307.3], "range": [80, 597], "nice": false, "zero": false}, "axis": {"title": "Curah hujan dugaan", "values": [0,50,100,150,200,250,300], "offset": -112.3}}, "x2": {"datum": 307.3}, "y": {"datum": -209.8, "type": "quantitative", "scale": {"domain": [-209.8, 337.7], "range": [361.7, 27.7], "nice": false, "zero": false}, "axis": {"title": "Sisaan", "values": [-200,-100,0,100,200,300], "offset": -80, "labelExpr": "'' + datum.value"}}, "y2": {"datum": 337.7}}},
  {"data": {"values": [{}]}, "mark": {"type": "rule", "stroke": "#7a7a7a", "strokeWidth": 1.2},
   "encoding": {"x": {"datum": -21.2, "type": "quantitative", "scale": {"domain": [-21.2, 307.3], "range": [80, 597], "nice": false, "zero": false}, "axis": {"title": "Curah hujan dugaan", "values": [0,50,100,150,200,250,300], "offset": -112.3}}, "x2": {"datum": 307.3}, "y": {"datum": 0, "type": "quantitative", "scale": {"domain": [-209.8, 337.7], "range": [361.7, 27.7], "nice": false, "zero": false}, "axis": {"title": "Sisaan", "values": [-200,-100,0,100,200,300], "offset": -80, "labelExpr": "'' + datum.value"}}}},
  {"data": {"name": "b"}, "mark": {"type": "point"},
   "encoding": {"x": {"field": "x", "type": "quantitative", "scale": {"domain": [-21.2, 307.3], "range": [80, 597], "nice": false, "zero": false}, "axis": {"title": "Curah hujan dugaan", "values": [0,50,100,150,200,250,300], "offset": -112.3}}, "y": {"field": "y", "type": "quantitative", "scale": {"domain": [-209.8, 337.7], "range": [361.7, 27.7], "nice": false, "zero": false}, "axis": {"title": "Sisaan", "values": [-200,-100,0,100,200,300], "offset": -80, "labelExpr": "'' + datum.value"}}}},
  {"data": {"values": [{"label": "(b)"}]}, "mark": {"type": "text", "font": "Liberation Serif", "fontSize": 20, "align": "center", "baseline": "middle", "color": "#000"},
   "encoding": {"x": {"datum": 127.5, "type": "quantitative", "scale": {"domain": [-21.2, 307.3], "range": [80, 597], "nice": false, "zero": false}, "axis": {"title": "Curah hujan dugaan", "values": [0,50,100,150,200,250,300], "offset": -112.3}}, "y": {"datum": -343.1, "type": "quantitative", "scale": {"domain": [-209.8, 337.7], "range": [361.7, 27.7], "nice": false, "zero": false}, "axis": {"title": "Sisaan", "values": [-200,-100,0,100,200,300], "offset": -80, "labelExpr": "'' + datum.value"}}, "text": {"field": "label"}}}
 ]}
], "spacing": 0, "bounds": "flush"},
{"hconcat": [
{"width": 632, "height": 472, "view": {"stroke": "#000", "strokeWidth": 2},
 "layer": [
  {"data": {"values": [{}]}, "mark": {"type": "rect", "fill": "transparent", "stroke": "#3a3a3a", "strokeWidth": 1},
   "encoding": {"x": {"datum": -15.5, "type": "quantitative", "scale": {"domain": [-15.5, 321.1], "range": [83.7, 595.7], "nice": false, "zero": false}, "axis": {"title": "Curah hujan dugaan", "values": [0,50,100,150,200,250,300], "offset": -115}}, "x2": {"datum": 321.1}, "y": {"datum": -211.0, "type": "quantitative", "scale": {"domain": [-211.0, 325.8], "range": [357, 26.3], "nice": false, "zero": false}, "axis": {"title": "Sisaan", "values": [-200,-100,0,100,200,300], "offset": -83.7, "labelExpr": "'' + datum.value"}}, "y2": {"datum": 325.8}}},
  {"data": {"values": [{}]}, "mark": {"type": "rule", "stroke": "#7a7a7a", "strokeWidth": 1.2},
   "encoding": {"x": {"datum": -15.5, "type": "quantitative", "scale": {"domain": [-15.5, 321.1], "range": [83.7, 595.7], "nice": false, "zero": false}, "axis": {"title": "Curah hujan dugaan", "values": [0,50,100,150,200,250,300], "offset": -115}}, "x2": {"datum": 321.1}, "y": {"datum": 0, "type": "quantitative", "scale": {"domain": [-211.0, 325.8], "range": [357, 26.3], "nice": false, "zero": false}, "axis": {"title": "Sisaan", "values": [-200,-100,0,100,200,300], "offset": -83.7, "labelExpr": "'' + datum.value"}}}},
  {"data": {"name": "c"}, "mark": {"type": "point"},
   "encoding": {"x": {"field": "x", "type": "quantitative", "scale": {"domain": [-15.5, 321.1], "range": [83.7, 595.7], "nice": false, "zero": false}, "axis": {"title": "Curah hujan dugaan", "values": [0,50,100,150,200,250,300], "offset": -115}}, "y": {"field": "y", "type": "quantitative", "scale": {"domain": [-211.0, 325.8], "range": [357, 26.3], "nice": false, "zero": false}, "axis": {"title": "Sisaan", "values": [-200,-100,0,100,200,300], "offset": -83.7, "labelExpr": "'' + datum.value"}}}},
  {"data": {"values": [{"label": "(c)"}]}, "mark": {"type": "text", "font": "Liberation Serif", "fontSize": 20, "align": "center", "baseline": "middle", "color": "#000"},
   "encoding": {"x": {"datum": 137.9, "type": "quantitative", "scale": {"domain": [-15.5, 321.1], "range": [83.7, 595.7], "nice": false, "zero": false}, "axis": {"title": "Curah hujan dugaan", "values": [0,50,100,150,200,250,300], "offset": -115}}, "y": {"datum": -349, "type": "quantitative", "scale": {"domain": [-211.0, 325.8], "range": [357, 26.3], "nice": false, "zero": false}, "axis": {"title": "Sisaan", "values": [-200,-100,0,100,200,300], "offset": -83.7, "labelExpr": "'' + datum.value"}}, "text": {"field": "label"}}}
 ]},
{"width": 625, "height": 472, "view": {"stroke": "#000", "strokeWidth": 2},
 "layer": [
  {"data": {"values": [{}]}, "mark": {"type": "rect", "fill": "transparent", "stroke": "#3a3a3a", "strokeWidth": 1},
   "encoding": {"x": {"datum": -16.2, "type": "quantitative", "scale": {"domain": [-16.2, 317.5], "range": [78.3, 592.3], "nice": false, "zero": false}, "axis": {"title": "Curah hujan dugaan", "values": [0,50,100,150,200,250,300], "offset": -113}}, "x2": {"datum": 317.5}, "y": {"datum": -209.5, "type": "quantitative", "scale": {"domain": [-209.5, 328.6], "range": [359, 24.3], "nice": false, "zero": false}, "axis": {"title": "Sisaan", "values": [-200,-100,0,100,200,300], "offset": -78.3, "labelExpr": "'' + datum.value"}}, "y2": {"datum": 328.6}}},
  {"data": {"values": [{}]}, "mark": {"type": "rule", "stroke": "#7a7a7a", "strokeWidth": 1.2},
   "encoding": {"x": {"datum": -16.2, "type": "quantitative", "scale": {"domain": [-16.2, 317.5], "range": [78.3, 592.3], "nice": false, "zero": false}, "axis": {"title": "Curah hujan dugaan", "values": [0,50,100,150,200,250,300], "offset": -113}}, "x2": {"datum": 317.5}, "y": {"datum": 0, "type": "quantitative", "scale": {"domain": [-209.5, 328.6], "range": [359, 24.3], "nice": false, "zero": false}, "axis": {"title": "Sisaan", "values": [-200,-100,0,100,200,300], "offset": -78.3, "labelExpr": "'' + datum.value"}}}},
  {"data": {"name": "d"}, "mark": {"type": "point"},
   "encoding": {"x": {"field": "x", "type": "quantitative", "scale": {"domain": [-16.2, 317.5], "range": [78.3, 592.3], "nice": false, "zero": false}, "axis": {"title": "Curah hujan dugaan", "values": [0,50,100,150,200,250,300], "offset": -113}}, "y": {"field": "y", "type": "quantitative", "scale": {"domain": [-209.5, 328.6], "range": [359, 24.3], "nice": false, "zero": false}, "axis": {"title": "Sisaan", "values": [-200,-100,0,100,200,300], "offset": -78.3, "labelExpr": "'' + datum.value"}}}},
  {"data": {"values": [{"label": "(d)"}]}, "mark": {"type": "text", "font": "Liberation Serif", "fontSize": 20, "align": "center", "baseline": "middle", "color": "#000"},
   "encoding": {"x": {"datum": 136.8, "type": "quantitative", "scale": {"domain": [-16.2, 317.5], "range": [78.3, 592.3], "nice": false, "zero": false}, "axis": {"title": "Curah hujan dugaan", "values": [0,50,100,150,200,250,300], "offset": -113}}, "y": {"datum": -342.9, "type": "quantitative", "scale": {"domain": [-209.5, 328.6], "range": [359, 24.3], "nice": false, "zero": false}, "axis": {"title": "Sisaan", "values": [-200,-100,0,100,200,300], "offset": -78.3, "labelExpr": "'' + datum.value"}}, "text": {"field": "label"}}}
 ]}
], "spacing": 0, "bounds": "flush"},
{"width": 1257, "height": 120, "view": {"stroke": "#000", "strokeWidth": 2},
 "layer": [
  {"data": {"values": [{"t": "Gambar 8. \u00a0Plot sisaan dan nilai curah hujan dugaan model R1KU (a), model R2KU (b), model R3KU (c),"}]},
   "mark": {"type": "text", "font": "Liberation Serif", "fontSize": 26, "fontWeight": "bold", "align": "center", "baseline": "middle", "dx": 24.5, "dy": -26, "color": "#000"},
   "encoding": {"text": {"field": "t"}}},
  {"data": {"values": [{"t": "dan model R4KU (d) pada data GCM tunda"}]},
   "mark": {"type": "text", "font": "Liberation Serif", "fontSize": 26, "fontWeight": "bold", "align": "center", "baseline": "middle", "dx": 87.5, "dy": 4, "color": "#000"},
   "encoding": {"text": {"field": "t"}}}
 ]}
]
}
